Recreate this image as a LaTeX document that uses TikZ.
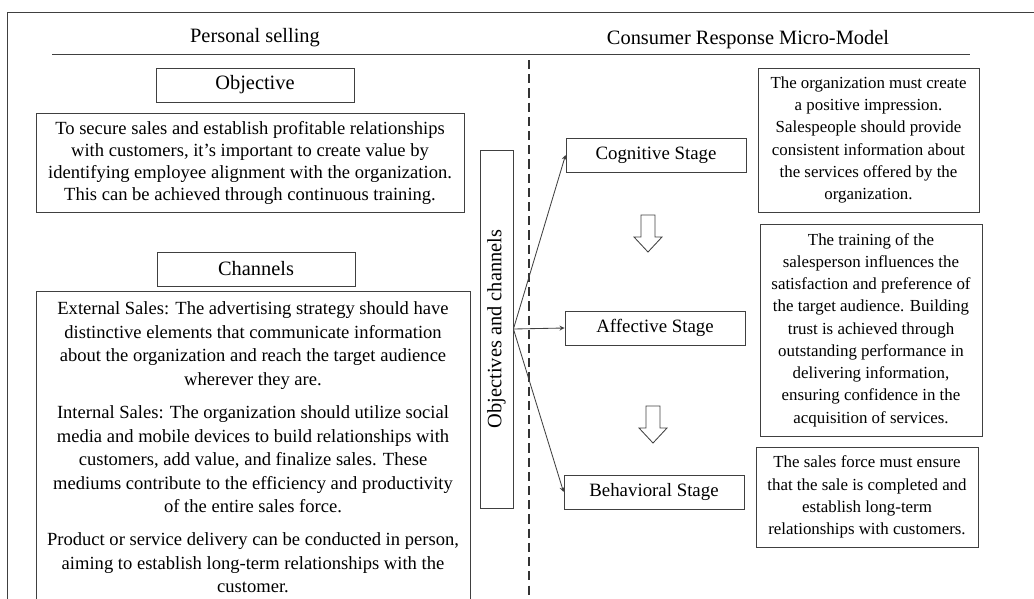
\documentclass[tikz,border=0pt]{standalone}
\usepackage{fontspec}
\setmainfont{Liberation Serif}

\begin{document}
\begin{tikzpicture}[x=0.025cm,y=-0.025cm,
	line/.style={draw=black!75, line width=0.6pt},
	label/.style={line, inner sep=0pt, align=center, font=\fontsize{14.5}{17}\selectfont},
	textbox/.style={line, inner sep=0pt, align=center, font=\fontsize{13.2}{16.7}\selectfont},
	notebox/.style={line, inner sep=0pt, align=center, font=\fontsize{12}{15.8}\selectfont},
	stagebox/.style={label, font=\fontsize{13.4}{16}\selectfont, minimum width=4.5cm, minimum height=0.85cm}]
	\useasboundingbox (0,0) rectangle (1034,599);
	\clip (0,0) rectangle (1034,599);
	% frame and headings
	\draw[line] (7,610) -- (7,12) -- (1040,12);
	\node[font=\fontsize{14.5}{17}\selectfont] (hleft) at (255,38) {Personal selling};
	\node[font=\fontsize{14.5}{17}\selectfont] (hright) at (748,40) {Consumer Response Micro-Model};
	\draw[line] (52,54) -- (970,54);
	\draw[black!80, line width=1.3pt, dash pattern=on 6.5pt off 3.6pt] (529,60) -- (529,599);
	% left side
	\node[label, minimum width=4.95cm, minimum height=0.85cm] (obj) at (255,85) {Objective};
	\node[textbox, font=\fontsize{13.2}{15.5}\selectfont, minimum width=10.7cm, minimum height=2.475cm] (objtext) at (250,163) {To secure sales and establish profitable relationships\\ with customers, it's important to create value by\\ identifying employee alignment with the organization.\\ This can be achieved through continuous training.};
	\node[label, minimum width=4.95cm, minimum height=0.85cm] (chan) at (256,269) {Channels};
	\node[textbox, anchor=north, minimum width=10.85cm, minimum height=7.8cm] (chantext) at (253,291) {External Sales: The advertising strategy should have\\ distinctive elements that communicate information\\ about the organization and reach the target audience\\ wherever they are.\\[7pt] Internal Sales: The organization should utilize social\\ media and mobile devices to build relationships with\\ customers, add value, and finalize sales. These\\ mediums contribute to the efficiency and productivity\\ of the entire sales force.\\[7pt] Product or service delivery can be conducted in person,\\ aiming to establish long-term relationships with the\\ customer.};
	\node[label, rotate=90, minimum width=8.95cm, minimum height=0.825cm] (objchan) at (496.5,329) {Objectives and channels};
	% stages
	\node[stagebox] (cog) at (656,155) {Cognitive Stage};
	\node[stagebox] (aff) at (655,328) {Affective Stage};
	\node[stagebox] (beh) at (654,492) {Behavioral Stage};
	\draw[line, ->, >=stealth] (objchan.south) -- (cog.west);
	\draw[line, ->, >=stealth] (objchan.south) -- (aff.west);
	\draw[line, ->, >=stealth] (objchan.south) -- (beh.west);
	\foreach \ax/\ay in {648/215, 653/406}{
		\draw[line] (\ax-7,\ay) -- (\ax+7,\ay) -- (\ax+7,\ay+22) -- (\ax+14,\ay+22) -- (\ax,\ay+37) -- (\ax-14,\ay+22) -- (\ax-7,\ay+22) -- cycle;
	}
	% notes
	\node[notebox, minimum width=5.525cm, minimum height=3.6cm] (cognote) at (868.5,140) {The organization must create\\ a positive impression.\\ Salespeople should provide\\ consistent information about\\ the services offered by the\\ organization.};
	\node[notebox, minimum width=5.55cm, minimum height=5.3cm] (affnote) at (871,330) {The training of the\\ salesperson influences the\\ satisfaction and preference of\\ the target audience. Building\\ trust is achieved through\\ outstanding performance in\\ delivering information,\\ ensuring confidence in the\\ acquisition of services.};
	\node[notebox, minimum width=5.55cm, minimum height=2.5cm] (behnote) at (867,497) {The sales force must ensure\\ that the sale is completed and\\ establish long-term\\ relationships with customers.};
\end{tikzpicture}
\end{document}
